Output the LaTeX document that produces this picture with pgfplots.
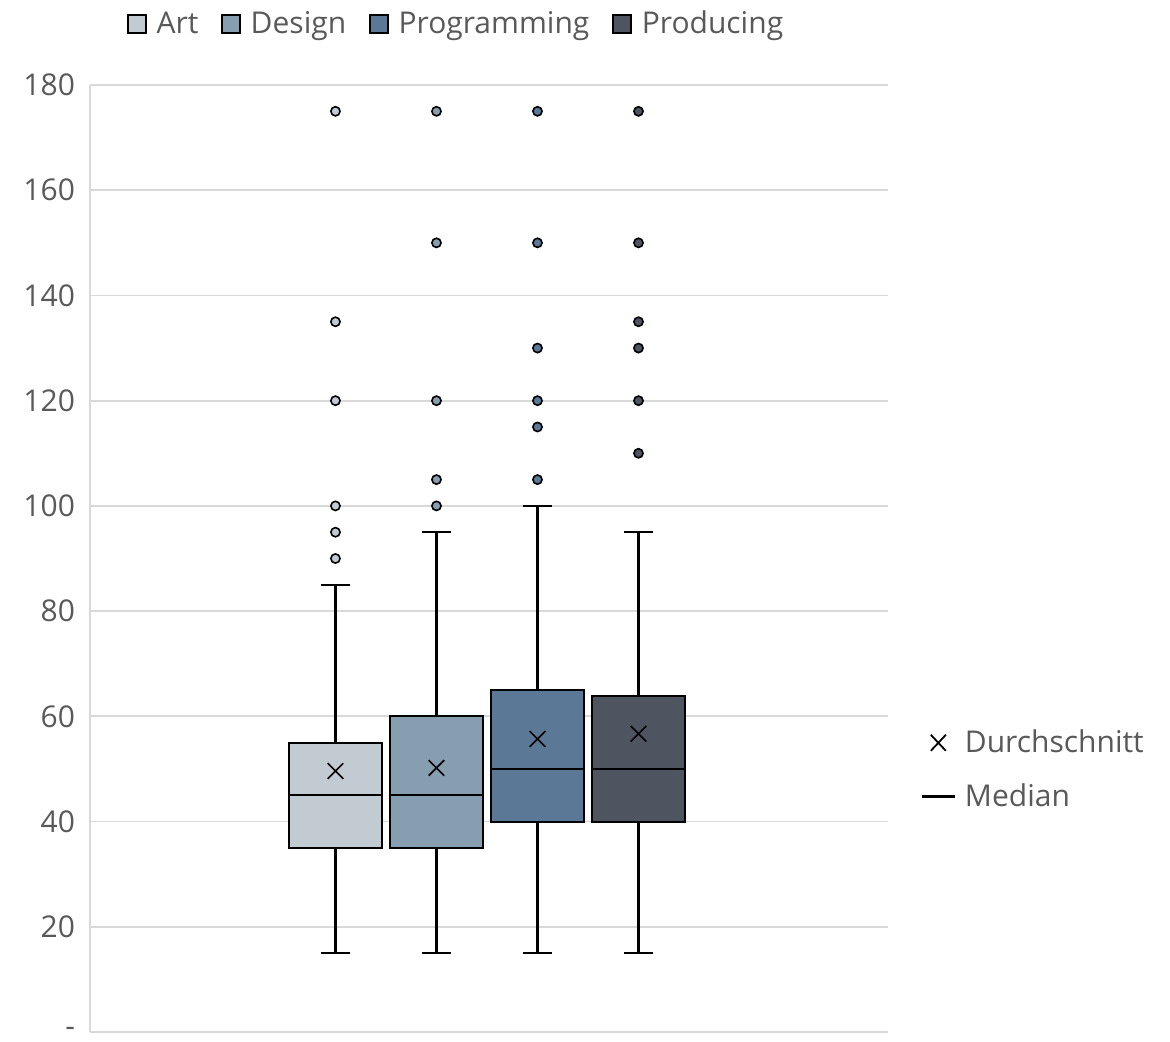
\documentclass[border=0pt]{standalone}
\usepackage{pgfplots}
\pgfplotsset{compat=1.18}
\usepgfplotslibrary{statistics}
\usepackage{fontspec}
\setmainfont{Open Sans}
\definecolor{artc}{HTML}{C2CBD1}
\definecolor{desc}{HTML}{879EB0}
\definecolor{proc}{HTML}{5B7896}
\definecolor{prodc}{HTML}{4E5560}
\definecolor{textc}{HTML}{595959}
\definecolor{gridc}{HTML}{D9D9D9}
\begin{document}
\begin{tikzpicture}
\path[use as bounding box] (-45pt,-4.5pt) rectangle (540pt,516pt);
\pgfplotsset{
  common/.style={
    at={(0,0)}, anchor=south west,
    scale only axis, width=399pt, height=473.5pt,
    xmin=-2.43, xmax=5.47, ymin=0, ymax=180,
  },
  bx/.style={draw=black, line width=0.95pt, fill=#1, mark=*, mark size=2.3pt,
    mark options={fill=#1, draw=black, line width=0.8pt, solid}},
}
\begin{axis}[common,
  axis x line*=bottom, axis y line*=left,
  axis line style={gridc, line width=0.9pt},
  xtick=\empty,
  ytick={0,20,40,60,80,100,120,140,160,180},
  yticklabels={-,20,40,60,80,100,120,140,160,180},
  major tick length=0pt,
  ymajorgrids, grid style={gridc, line width=0.9pt},
  yticklabel style={font=\fontsize{15}{17}\selectfont\color{textc}, xshift=-4pt},
  /pgf/number format/assume math mode=true,
  boxplot/draw direction=y,
  boxplot/box extend=0.92,
  boxplot/whisker extend=0.28,
  boxplot/every whisker/.style={black, line width=1.1pt},
  boxplot/every median/.style={black, line width=1pt},
  legend image code/.code={\draw[#1, line width=0.9pt] (0pt,-4.5pt) rectangle (9pt,4.5pt);},
  legend columns=4,
  legend cell align=left,
  legend style={draw=none, fill=none, at={(rel axis cs:0.038,1.087)}, anchor=north west,
    font=\fontsize{15}{17}\selectfont\color{textc},
    /tikz/every odd column/.append style={column sep=3pt},
    /tikz/every even column/.append style={column sep=9.3pt}},
]
\addplot[forget plot, bx=artc,
  boxplot prepared={draw position=0, lower whisker=15, lower quartile=35, median=45, upper quartile=55, upper whisker=85}]
  coordinates {(0,90) (0,95) (0,100) (0,120) (0,135) (0,175)};
\addplot[forget plot, bx=desc,
  boxplot prepared={draw position=1, lower whisker=15, lower quartile=35, median=45, upper quartile=60, upper whisker=95}]
  coordinates {(1,100) (1,105) (1,120) (1,150) (1,175)};
\addplot[forget plot, bx=proc,
  boxplot prepared={draw position=2, lower whisker=15, lower quartile=40, median=50, upper quartile=65, upper whisker=100}]
  coordinates {(2,105) (2,115) (2,120) (2,130) (2,150) (2,175)};
\addplot[forget plot, bx=prodc,
  boxplot prepared={draw position=3, lower whisker=15, lower quartile=40, median=50, upper quartile=63.8, upper whisker=95}]
  coordinates {(3,110) (3,120) (3,130) (3,135) (3,150) (3,175)};
% means
\addplot[forget plot, only marks, mark=x, mark size=5.5pt, mark options={black, line width=0.8pt}]
  coordinates {(0,49.6) (1,50.2) (2,55.7) (3,56.7)};
\addlegendimage{fill=artc, draw=black}\addlegendentry{Art}
\addlegendimage{fill=desc, draw=black}\addlegendentry{Design}
\addlegendimage{fill=proc, draw=black}\addlegendentry{Programming}
\addlegendimage{fill=prodc, draw=black}\addlegendentry{Producing}
\end{axis}
\begin{axis}[common, hide axis,
  legend cell align=left,
  legend style={draw=none, fill=none, at={(rel axis cs:1.033,0.277)}, anchor=west,
    font=\fontsize{15}{17}\selectfont\color{textc}, row sep=10pt,
    /tikz/every odd column/.append style={column sep=2.5pt}},
]
\addlegendimage{legend image code/.code={\path[draw=none, fill=none] (0pt,0pt) -- (16.5pt,0pt);
  \draw[black, line width=0.9pt] (4.5pt,-4pt) -- (12pt,4pt) (4.5pt,4pt) -- (12pt,-4pt);}}
\addlegendentry{Durchschnitt}
\addlegendimage{legend image code/.code={\draw[black, line width=1.1pt] (0pt,0pt) -- (16.5pt,0pt);}}
\addlegendentry{Median}
\end{axis}
\end{tikzpicture}
\end{document}
